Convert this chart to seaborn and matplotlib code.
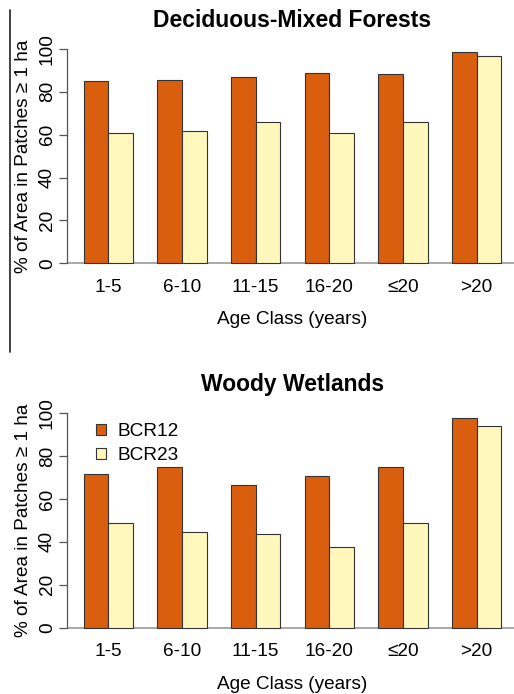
import matplotlib
matplotlib.use("Agg")
import matplotlib.pyplot as plt
import seaborn as sns
import pandas as pd
from matplotlib.lines import Line2D
from matplotlib.patches import Patch

# Share of area in patches >= 1 ha, by age class and bird conservation region
age_classes = ["1-5", "6-10", "11-15", "16-20", "≤20", ">20"]
regions = ["BCR12", "BCR23"]
forest_bcr12 = [85.0, 85.4, 86.8, 88.8, 88.5, 98.6]
forest_bcr23 = [61.0, 61.6, 66.1, 61.0, 66.0, 96.9]
wetland_bcr12 = [71.7, 74.7, 66.5, 70.7, 74.8, 97.5]
wetland_bcr23 = [48.8, 44.4, 43.8, 37.6, 48.9, 94.1]
panel_titles = ["Deciduous-Mixed Forests", "Woody Wetlands"]
y_ticks = [0, 20, 40, 60, 80, 100]

bar_colors = ["#D95F0E", "#FFF7BC"]
edge_color = "#333333"

sns.set_style("ticks")
plt.rcParams["font.family"] = ["Liberation Sans", "DejaVu Sans"]
plt.rcParams["text.color"] = "black"
plt.rcParams["axes.labelcolor"] = "black"
plt.rcParams["xtick.color"] = "black"
plt.rcParams["ytick.color"] = "black"

FS = 13.7


def long_table(bcr12, bcr23):
    return pd.DataFrame({
        "age": age_classes * 2,
        "region": [regions[0]] * len(age_classes) + [regions[1]] * len(age_classes),
        "pct": list(bcr12) + list(bcr23),
    })


W, H = 514, 694
fig = plt.figure(figsize=(W / 100, H / 100), dpi=100)

# axes boxes in pixels: (left, top, right, bottom)
boxes = [(67, 40.4, 518, 271.9), (67, 404.4, 518, 636.3)]
tables = [long_table(forest_bcr12, forest_bcr23),
          long_table(wetland_bcr12, wetland_bcr23)]

for i, (box, df, title) in enumerate(zip(boxes, tables, panel_titles)):
    l, t, r, b = box
    ax = fig.add_axes([l / W, 1 - b / H, (r - l) / W, (b - t) / H])
    sns.barplot(data=df, x="age", y="pct", hue="region", order=age_classes,
                hue_order=regions, palette=bar_colors, width=2 / 3,
                saturation=1, edgecolor=edge_color, linewidth=0.8,
                legend=False, ax=ax)
    ax.set_xlim(-0.56, 5.56)
    ax.set_ylim(-4, 104)
    ax.axhline(0, color="#999999", lw=1.2, zorder=0.5)

    for s in ["top", "right", "bottom"]:
        ax.spines[s].set_visible(False)
    ax.spines["left"].set_bounds(0, 100)
    ax.spines["left"].set_color("#555555")
    ax.spines["left"].set_linewidth(0.9)

    ax.set_yticks(y_ticks)
    ax.set_yticklabels([str(v) for v in y_ticks], rotation=90, va="center")
    ax.tick_params(axis="y", length=6, width=0.9, color="#555555",
                   labelcolor="black", labelsize=FS, pad=2)
    ax.tick_params(axis="x", length=0, labelsize=FS, pad=5)

    ax.set_xlabel("Age Class (years)", fontsize=FS, labelpad=11)
    ax.set_ylabel("% of Area in Patches ≥ 1 ha", fontsize=FS, labelpad=5)
    ax.set_title(title, fontsize=16.5, fontweight="bold", pad=10,
                 color="black")

    if i == 1:
        handles = [Patch(facecolor=c, edgecolor=edge_color, linewidth=0.8)
                   for c in bar_colors]
        ax.legend(handles, regions, loc="upper left",
                  bbox_to_anchor=(96 / W, 1 - 423 / H),
                  bbox_transform=fig.transFigure, frameon=False,
                  fontsize=FS, handlelength=0.55, handleheight=0.55,
                  handletextpad=0.6, labelspacing=0.38, borderpad=0,
                  borderaxespad=0)

# thin rule along the left edge of the upper panel
fig.add_artist(Line2D([9.5 / W, 9.5 / W], [1 - 10 / H, 1 - 352 / H],
                      transform=fig.transFigure, color="#333333", lw=1.3))

fig.savefig("out.png", dpi=100)
